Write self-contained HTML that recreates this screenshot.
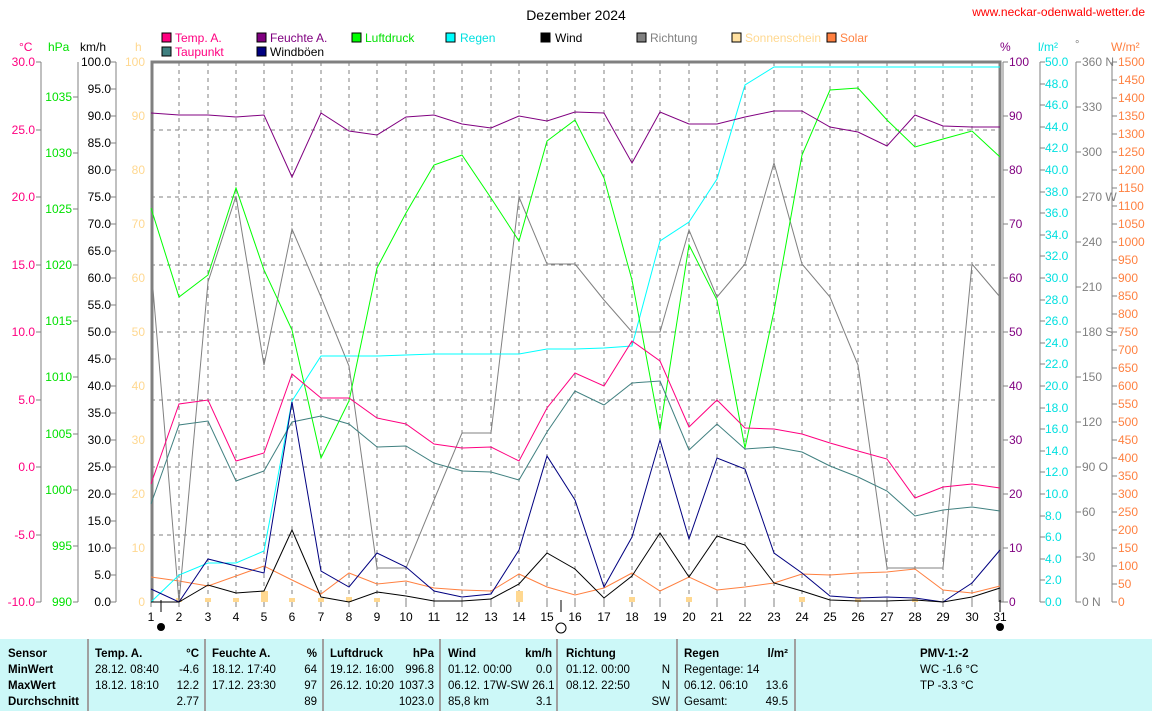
<!DOCTYPE html>
<html><head><meta charset="utf-8"><style>
body{margin:0;background:#fff;}
svg{display:block;font-family:"Liberation Sans",sans-serif;font-size:11px;}
.b{font-weight:bold;}
</style></head><body>
<svg width="1152" height="711" viewBox="0 0 1152 711">
<rect width="1152" height="711" fill="#fff"/>
<text x="576" y="20" text-anchor="middle" font-size="14">Dezember 2024</text>
<text x="1145" y="16" text-anchor="end" fill="#ff0000" font-size="12">www.neckar-odenwald-wetter.de</text>
<!-- legend -->
<g font-size="12">
<rect x="162" y="33" width="9" height="9" fill="#ff0080" stroke="#000"/><text x="175" y="42" fill="#ff0080">Temp. A.</text>
<rect x="162" y="47" width="9" height="9" fill="#408080" stroke="#000"/><text x="175" y="56" fill="#ff0080">Taupunkt</text>
<rect x="257" y="33" width="9" height="9" fill="#800080" stroke="#000"/><text x="270" y="42" fill="#800080">Feuchte A.</text>
<rect x="257" y="47" width="9" height="9" fill="#000080" stroke="#000"/><text x="270" y="56">Windböen</text>
<rect x="352" y="33" width="9" height="9" fill="#00ff00" stroke="#000"/><text x="365" y="42" fill="#00e000">Luftdruck</text>
<rect x="446" y="33" width="9" height="9" fill="#00ffff" stroke="#000"/><text x="460" y="42" fill="#00e0e0">Regen</text>
<rect x="541" y="33" width="9" height="9" fill="#000" stroke="#000"/><text x="555" y="42">Wind</text>
<rect x="637" y="33" width="9" height="9" fill="#808080" stroke="#000"/><text x="650" y="42" fill="#808080">Richtung</text>
<rect x="732" y="33" width="9" height="9" fill="#ffe0a0" stroke="#000"/><text x="745" y="42" fill="#ffd890">Sonnenschein</text>
<rect x="827" y="33" width="9" height="9" fill="#ff8040" stroke="#000"/><text x="840" y="42" fill="#ff8040">Solar</text>
</g>
<!-- axis units -->
<text x="19" y="51" fill="#ff0080" font-size="12">°C</text>
<text x="48" y="51" fill="#00e000" font-size="12">hPa</text>
<text x="80" y="51" font-size="12">km/h</text>
<text x="135" y="51" fill="#ffd890" font-size="12">h</text>
<text x="1000" y="51" fill="#800080" font-size="12">%</text>
<text x="1038" y="51" fill="#00e0e0" font-size="12">l/m²</text>
<text x="1075" y="48" fill="#808080">°</text>
<text x="1111" y="51" fill="#ff8040" font-size="12">W/m²</text>
<!-- grid -->
<g stroke="#808080" stroke-dasharray="4,4" stroke-width="1">
<path d="M179 62V602M208 62V602M236 62V602M264 62V602M292 62V602M321 62V602M349 62V602M377 62V602M406 62V602M434 62V602M462 62V602M491 62V602M519 62V602M547 62V602M575 62V602M604 62V602M632 62V602M660 62V602M689 62V602M717 62V602M745 62V602M774 62V602M802 62V602M830 62V602M858 62V602M887 62V602M915 62V602M943 62V602M972 62V602"/>
<path d="M151 130H1000M151 197H1000M151 265H1000M151 332H1000M151 400H1000M151 467H1000M151 535H1000"/>
</g>
<!-- frame -->
<path d="M152 602V62H1000V602" fill="none" stroke="#808080" stroke-width="3"/>
<!-- axes lines -->
<g stroke="#808080" fill="none">
<path d="M41 62V602M78 62V602M116 62V602M1003 62V602M1040 62V602M1076 62V602M1112 62V602"/>
<path d="M41 62h-5M41 130h-5M41 197h-5M41 265h-5M41 332h-5M41 400h-5M41 467h-5M41 535h-5M41 602h-5"/>
<path d="M78 97h-5M78 153h-5M78 209h-5M78 265h-5M78 321h-5M78 377h-5M78 434h-5M78 490h-5M78 546h-5M78 602h-5"/>
<path d="M116 62h-5M116 89h-5M116 116h-5M116 143h-5M116 170h-5M116 197h-5M116 224h-5M116 251h-5M116 278h-5M116 305h-5M116 332h-5M116 359h-5M116 386h-5M116 413h-5M116 440h-5M116 467h-5M116 494h-5M116 521h-5M116 548h-5M116 575h-5M116 602h-5"/>
<path d="M1000 602h3M1003 62h5M1003 116h5M1003 170h5M1003 224h5M1003 278h5M1003 332h5M1003 386h5M1003 440h5M1003 494h5M1003 548h5M1003 602h5"/>
<path d="M1040 62h5M1040 84h5M1040 105h5M1040 127h5M1040 148h5M1040 170h5M1040 192h5M1040 213h5M1040 235h5M1040 256h5M1040 278h5M1040 300h5M1040 321h5M1040 343h5M1040 364h5M1040 386h5M1040 408h5M1040 429h5M1040 451h5M1040 472h5M1040 494h5M1040 516h5M1040 537h5M1040 559h5M1040 580h5M1040 602h5"/>
<path d="M1076 62h5M1076 107h5M1076 152h5M1076 197h5M1076 242h5M1076 287h5M1076 332h5M1076 377h5M1076 422h5M1076 467h5M1076 512h5M1076 557h5M1076 602h5"/>
<path d="M1112 62h5M1112 80h5M1112 98h5M1112 116h5M1112 134h5M1112 152h5M1112 170h5M1112 188h5M1112 206h5M1112 224h5M1112 242h5M1112 260h5M1112 278h5M1112 296h5M1112 314h5M1112 332h5M1112 350h5M1112 368h5M1112 386h5M1112 404h5M1112 422h5M1112 440h5M1112 458h5M1112 476h5M1112 494h5M1112 512h5M1112 530h5M1112 548h5M1112 566h5M1112 584h5M1112 602h5"/>
<path d="M151 602v5M179 602v5M208 602v5M236 602v5M264 602v5M292 602v5M321 602v5M349 602v5M377 602v5M406 602v5M434 602v5M462 602v5M491 602v5M519 602v5M547 602v5M575 602v5M604 602v5M632 602v5M660 602v5M689 602v5M717 602v5M745 602v5M774 602v5M802 602v5M830 602v5M858 602v5M887 602v5M915 602v5M943 602v5M972 602v5M1000 602v5"/>
</g>
<g font-size="12">
<!-- left labels -->
<g fill="#ff0080" text-anchor="end">
<text x="35" y="66">30.0</text><text x="35" y="134">25.0</text><text x="35" y="201">20.0</text><text x="35" y="269">15.0</text><text x="35" y="336">10.0</text><text x="35" y="404">5.0</text><text x="35" y="471">0.0</text><text x="35" y="539">-5.0</text><text x="35" y="606">-10.0</text>
</g>
<g fill="#00e000" text-anchor="end">
<text x="72" y="101">1035</text><text x="72" y="157">1030</text><text x="72" y="213">1025</text><text x="72" y="269">1020</text><text x="72" y="325">1015</text><text x="72" y="381">1010</text><text x="72" y="438">1005</text><text x="72" y="494">1000</text><text x="72" y="550">995</text><text x="72" y="606">990</text>
</g>
<g text-anchor="end">
<text x="111" y="66">100.0</text><text x="111" y="93">95.0</text><text x="111" y="120">90.0</text><text x="111" y="147">85.0</text><text x="111" y="174">80.0</text><text x="111" y="201">75.0</text><text x="111" y="228">70.0</text><text x="111" y="255">65.0</text><text x="111" y="282">60.0</text><text x="111" y="309">55.0</text><text x="111" y="336">50.0</text><text x="111" y="363">45.0</text><text x="111" y="390">40.0</text><text x="111" y="417">35.0</text><text x="111" y="444">30.0</text><text x="111" y="471">25.0</text><text x="111" y="498">20.0</text><text x="111" y="525">15.0</text><text x="111" y="552">10.0</text><text x="111" y="579">5.0</text><text x="111" y="606">0.0</text>
</g>
<g fill="#ffd890" text-anchor="end">
<text x="145" y="66">100</text><text x="145" y="120">90</text><text x="145" y="174">80</text><text x="145" y="228">70</text><text x="145" y="282">60</text><text x="145" y="336">50</text><text x="145" y="390">40</text><text x="145" y="444">30</text><text x="145" y="498">20</text><text x="145" y="552">10</text><text x="145" y="606">0</text>
</g>
<!-- right labels -->
<g fill="#800080">
<text x="1009" y="66">100</text><text x="1009" y="120">90</text><text x="1009" y="174">80</text><text x="1009" y="228">70</text><text x="1009" y="282">60</text><text x="1009" y="336">50</text><text x="1009" y="390">40</text><text x="1009" y="444">30</text><text x="1009" y="498">20</text><text x="1009" y="552">10</text><text x="1009" y="606">0</text>
</g>
<g fill="#00e0e0">
<text x="1045" y="66">50.0</text><text x="1045" y="88">48.0</text><text x="1045" y="109">46.0</text><text x="1045" y="131">44.0</text><text x="1045" y="152">42.0</text><text x="1045" y="174">40.0</text><text x="1045" y="196">38.0</text><text x="1045" y="217">36.0</text><text x="1045" y="239">34.0</text><text x="1045" y="260">32.0</text><text x="1045" y="282">30.0</text><text x="1045" y="304">28.0</text><text x="1045" y="325">26.0</text><text x="1045" y="347">24.0</text><text x="1045" y="368">22.0</text><text x="1045" y="390">20.0</text><text x="1045" y="412">18.0</text><text x="1045" y="433">16.0</text><text x="1045" y="455">14.0</text><text x="1045" y="476">12.0</text><text x="1045" y="498">10.0</text><text x="1045" y="520">8.0</text><text x="1045" y="541">6.0</text><text x="1045" y="563">4.0</text><text x="1045" y="584">2.0</text><text x="1045" y="606">0.0</text>
</g>
<g fill="#808080">
<text x="1082" y="66">360 N</text><text x="1082" y="111">330</text><text x="1082" y="156">300</text><text x="1082" y="201">270 W</text><text x="1082" y="246">240</text><text x="1082" y="291">210</text><text x="1082" y="336">180 S</text><text x="1082" y="381">150</text><text x="1082" y="426">120</text><text x="1082" y="471">90  O</text><text x="1082" y="516">60</text><text x="1082" y="561">30</text><text x="1082" y="606">0   N</text>
</g>
<g fill="#ff8040">
<text x="1118" y="66">1500</text><text x="1118" y="84">1450</text><text x="1118" y="102">1400</text><text x="1118" y="120">1350</text><text x="1118" y="138">1300</text><text x="1118" y="156">1250</text><text x="1118" y="174">1200</text><text x="1118" y="192">1150</text><text x="1118" y="210">1100</text><text x="1118" y="228">1050</text><text x="1118" y="246">1000</text><text x="1118" y="264">950</text><text x="1118" y="282">900</text><text x="1118" y="300">850</text><text x="1118" y="318">800</text><text x="1118" y="336">750</text><text x="1118" y="354">700</text><text x="1118" y="372">650</text><text x="1118" y="390">600</text><text x="1118" y="408">550</text><text x="1118" y="426">500</text><text x="1118" y="444">450</text><text x="1118" y="462">400</text><text x="1118" y="480">350</text><text x="1118" y="498">300</text><text x="1118" y="516">250</text><text x="1118" y="534">200</text><text x="1118" y="552">150</text><text x="1118" y="570">100</text><text x="1118" y="588">50</text><text x="1118" y="606">0</text>
</g>
<!-- x labels -->
<g text-anchor="middle">
<text x="151" y="621">1</text><text x="179" y="621">2</text><text x="208" y="621">3</text><text x="236" y="621">4</text><text x="264" y="621">5</text><text x="292" y="621">6</text><text x="321" y="621">7</text><text x="349" y="621">8</text><text x="377" y="621">9</text><text x="406" y="621">10</text><text x="434" y="621">11</text><text x="462" y="621">12</text><text x="491" y="621">13</text><text x="519" y="621">14</text><text x="547" y="621">15</text><text x="575" y="621">16</text><text x="604" y="621">17</text><text x="632" y="621">18</text><text x="660" y="621">19</text><text x="689" y="621">20</text><text x="717" y="621">21</text><text x="745" y="621">22</text><text x="774" y="621">23</text><text x="802" y="621">24</text><text x="830" y="621">25</text><text x="858" y="621">26</text><text x="887" y="621">27</text><text x="915" y="621">28</text><text x="943" y="621">29</text><text x="972" y="621">30</text><text x="1000" y="621">31</text>
</g>
</g>
<path d="M161 600v12M561 600v12M1000 600v12" stroke="#000"/>
<circle cx="161" cy="627" r="4" fill="#000"/>
<circle cx="561" cy="628" r="5" fill="none" stroke="#000"/>
<circle cx="1000" cy="627" r="4" fill="#000"/>
<!-- sunshine -->
<g fill="#ffd890">
<rect x="261" y="591" width="7" height="11"/><rect x="516" y="591" width="7" height="11"/>
<rect x="176" y="598" width="6" height="4"/><rect x="205" y="598" width="6" height="4"/><rect x="233" y="598" width="6" height="4"/><rect x="289" y="598" width="6" height="4"/><rect x="318" y="598" width="6" height="4"/><rect x="346" y="597" width="6" height="5"/><rect x="374" y="598" width="6" height="4"/><rect x="629" y="597" width="6" height="5"/><rect x="686" y="597" width="6" height="5"/><rect x="799" y="597" width="6" height="5"/><rect x="855" y="598" width="6" height="4"/><rect x="912" y="598" width="6" height="4"/>
</g>
<!-- series -->
<g fill="none" stroke-width="1">
<polyline stroke="#ff8040" points="151,577 179,581 208,586 236,576 264,566 292,580 321,594 349,573 377,584 406,581 434,588 462,590 491,591 519,574 547,587 575,595 604,588 632,573 660,591 689,577 717,590 745,587 774,583 802,574 830,575 858,573 887,572 915,569 943,590 972,593 1000,586"/>
<polyline stroke="#808080" points="151,265 179,602 208,282 236,196 264,365 292,229 321,297 349,366 377,568 406,568 434,500 462,433 491,433 519,197 547,264 575,264 604,300 632,332 660,332 689,230 717,297 745,264 774,163 802,264 830,297 858,365 887,568 915,568 943,568 972,264 1000,297"/>
<polyline stroke="#00ffff" points="151,602 179,575 208,563 236,563 264,551 292,401 321,356 349,356 377,356 406,355 434,354 462,354 491,354 519,354 547,349 575,349 604,348 632,346 660,241 689,222 717,179 745,85 774,67 802,67 830,67 858,67 887,67 915,67 943,67 972,67 1000,67"/>
<polyline stroke="#00ff00" points="151,208 179,297 208,275 236,188 264,270 292,330 321,458 349,401 377,268 406,213 434,165 462,155 491,198 519,241 547,141 575,120 604,178 632,280 660,430 689,245 717,300 745,448 774,311 802,155 830,90 858,88 887,120 915,147 943,139 972,131 1000,157"/>
<polyline stroke="#800080" points="151,113 179,115 208,115 236,117 264,115 292,177 321,113 349,131 377,135 406,117 434,115 462,124 491,128 519,116 547,121 575,112 604,113 632,163 660,112 689,124 717,124 745,117 774,111 802,111 830,127 858,132 887,146 915,115 943,126 972,127 1000,127"/>
<polyline stroke="#408080" points="151,504 179,425 208,421 236,481 264,471 292,422 321,416 349,424 377,447 406,446 434,463 462,471 491,472 519,480 547,432 575,391 604,405 632,383 660,381 689,450 717,424 745,449 774,447 802,452 830,466 858,477 887,491 915,516 943,510 972,507 1000,511"/>
<polyline stroke="#ff0080" points="151,484 179,404 208,400 236,461 264,453 292,374 321,398 349,398 377,418 406,424 434,444 462,448 491,447 519,461 547,408 575,373 604,386 632,341 660,361 689,427 717,400 745,428 774,429 802,434 830,443 858,451 887,459 915,498 943,487 972,484 1000,488"/>
<polyline stroke="#000080" points="151,589 179,602 208,559 236,566 264,573 292,402 321,571 349,587 377,553 406,567 434,591 462,597 491,594 519,550 547,456 575,500 604,587 632,537 660,440 689,539 717,458 745,469 774,553 802,573 830,596 858,598 887,597 915,598 943,602 972,583 1000,550"/>
<polyline stroke="#000" points="151,602 179,602 208,585 236,593 264,591 292,530 321,597 349,602 377,592 406,596 434,601 462,601 491,599 519,584 547,553 575,569 604,598 632,576 660,533 689,577 717,536 745,545 774,583 802,591 830,600 858,601 887,601 915,600 943,602 972,597 1000,588"/>
</g>
<!-- table -->
<rect x="0" y="639" width="1152" height="72" fill="#ccf8f8"/>
<g stroke="#a0a0a0" stroke-width="2">
<path d="M88 639V711M205 639V711M323 639V711M440 639V711M557 639V711M677 639V711M795 639V711"/>
</g>
<g font-size="11.5">
<text class="b" x="8" y="657">Sensor</text><text class="b" x="8" y="673">MinWert</text><text class="b" x="8" y="689">MaxWert</text><text class="b" x="8" y="705">Durchschnitt</text>
<text class="b" x="95" y="657">Temp. A.</text><text class="b" x="199" y="657" text-anchor="end">°C</text>
<text x="95" y="673">28.12.  08:40</text><text x="199" y="673" text-anchor="end">-4.6</text>
<text x="95" y="689">18.12.  18:10</text><text x="199" y="689" text-anchor="end">12.2</text>
<text x="199" y="705" text-anchor="end">2.77</text>
<text class="b" x="212" y="657">Feuchte A.</text><text class="b" x="317" y="657" text-anchor="end">%</text>
<text x="212" y="673">18.12.  17:40</text><text x="317" y="673" text-anchor="end">64</text>
<text x="212" y="689">17.12.  23:30</text><text x="317" y="689" text-anchor="end">97</text>
<text x="317" y="705" text-anchor="end">89</text>
<text class="b" x="330" y="657">Luftdruck</text><text class="b" x="434" y="657" text-anchor="end">hPa</text>
<text x="330" y="673">19.12.  16:00</text><text x="434" y="673" text-anchor="end">996.8</text>
<text x="330" y="689">26.12.  10:20</text><text x="434" y="689" text-anchor="end">1037.3</text>
<text x="434" y="705" text-anchor="end">1023.0</text>
<text class="b" x="448" y="657">Wind</text><text class="b" x="552" y="657" text-anchor="end">km/h</text>
<text x="448" y="673">01.12.  00:00</text><text x="552" y="673" text-anchor="end">0.0</text>
<text x="448" y="689">06.12.  17W-SW 26.1</text>
<text x="448" y="705">85,8 km</text><text x="552" y="705" text-anchor="end">3.1</text>
<text class="b" x="566" y="657">Richtung</text>
<text x="566" y="673">01.12.  00:00</text><text x="670" y="673" text-anchor="end">N</text>
<text x="566" y="689">08.12.  22:50</text><text x="670" y="689" text-anchor="end">N</text>
<text x="670" y="705" text-anchor="end">SW</text>
<text class="b" x="684" y="657">Regen</text><text class="b" x="788" y="657" text-anchor="end">l/m²</text>
<text x="684" y="673">Regentage: 14</text>
<text x="684" y="689">06.12.  06:10</text><text x="788" y="689" text-anchor="end">13.6</text>
<text x="684" y="705">Gesamt:</text><text x="788" y="705" text-anchor="end">49.5</text>
<text class="b" x="920" y="657">PMV-1:-2</text>
<text x="920" y="673">WC -1.6 °C</text>
<text x="920" y="689">TP -3.3 °C</text>
</g>
</svg>
</body></html>
